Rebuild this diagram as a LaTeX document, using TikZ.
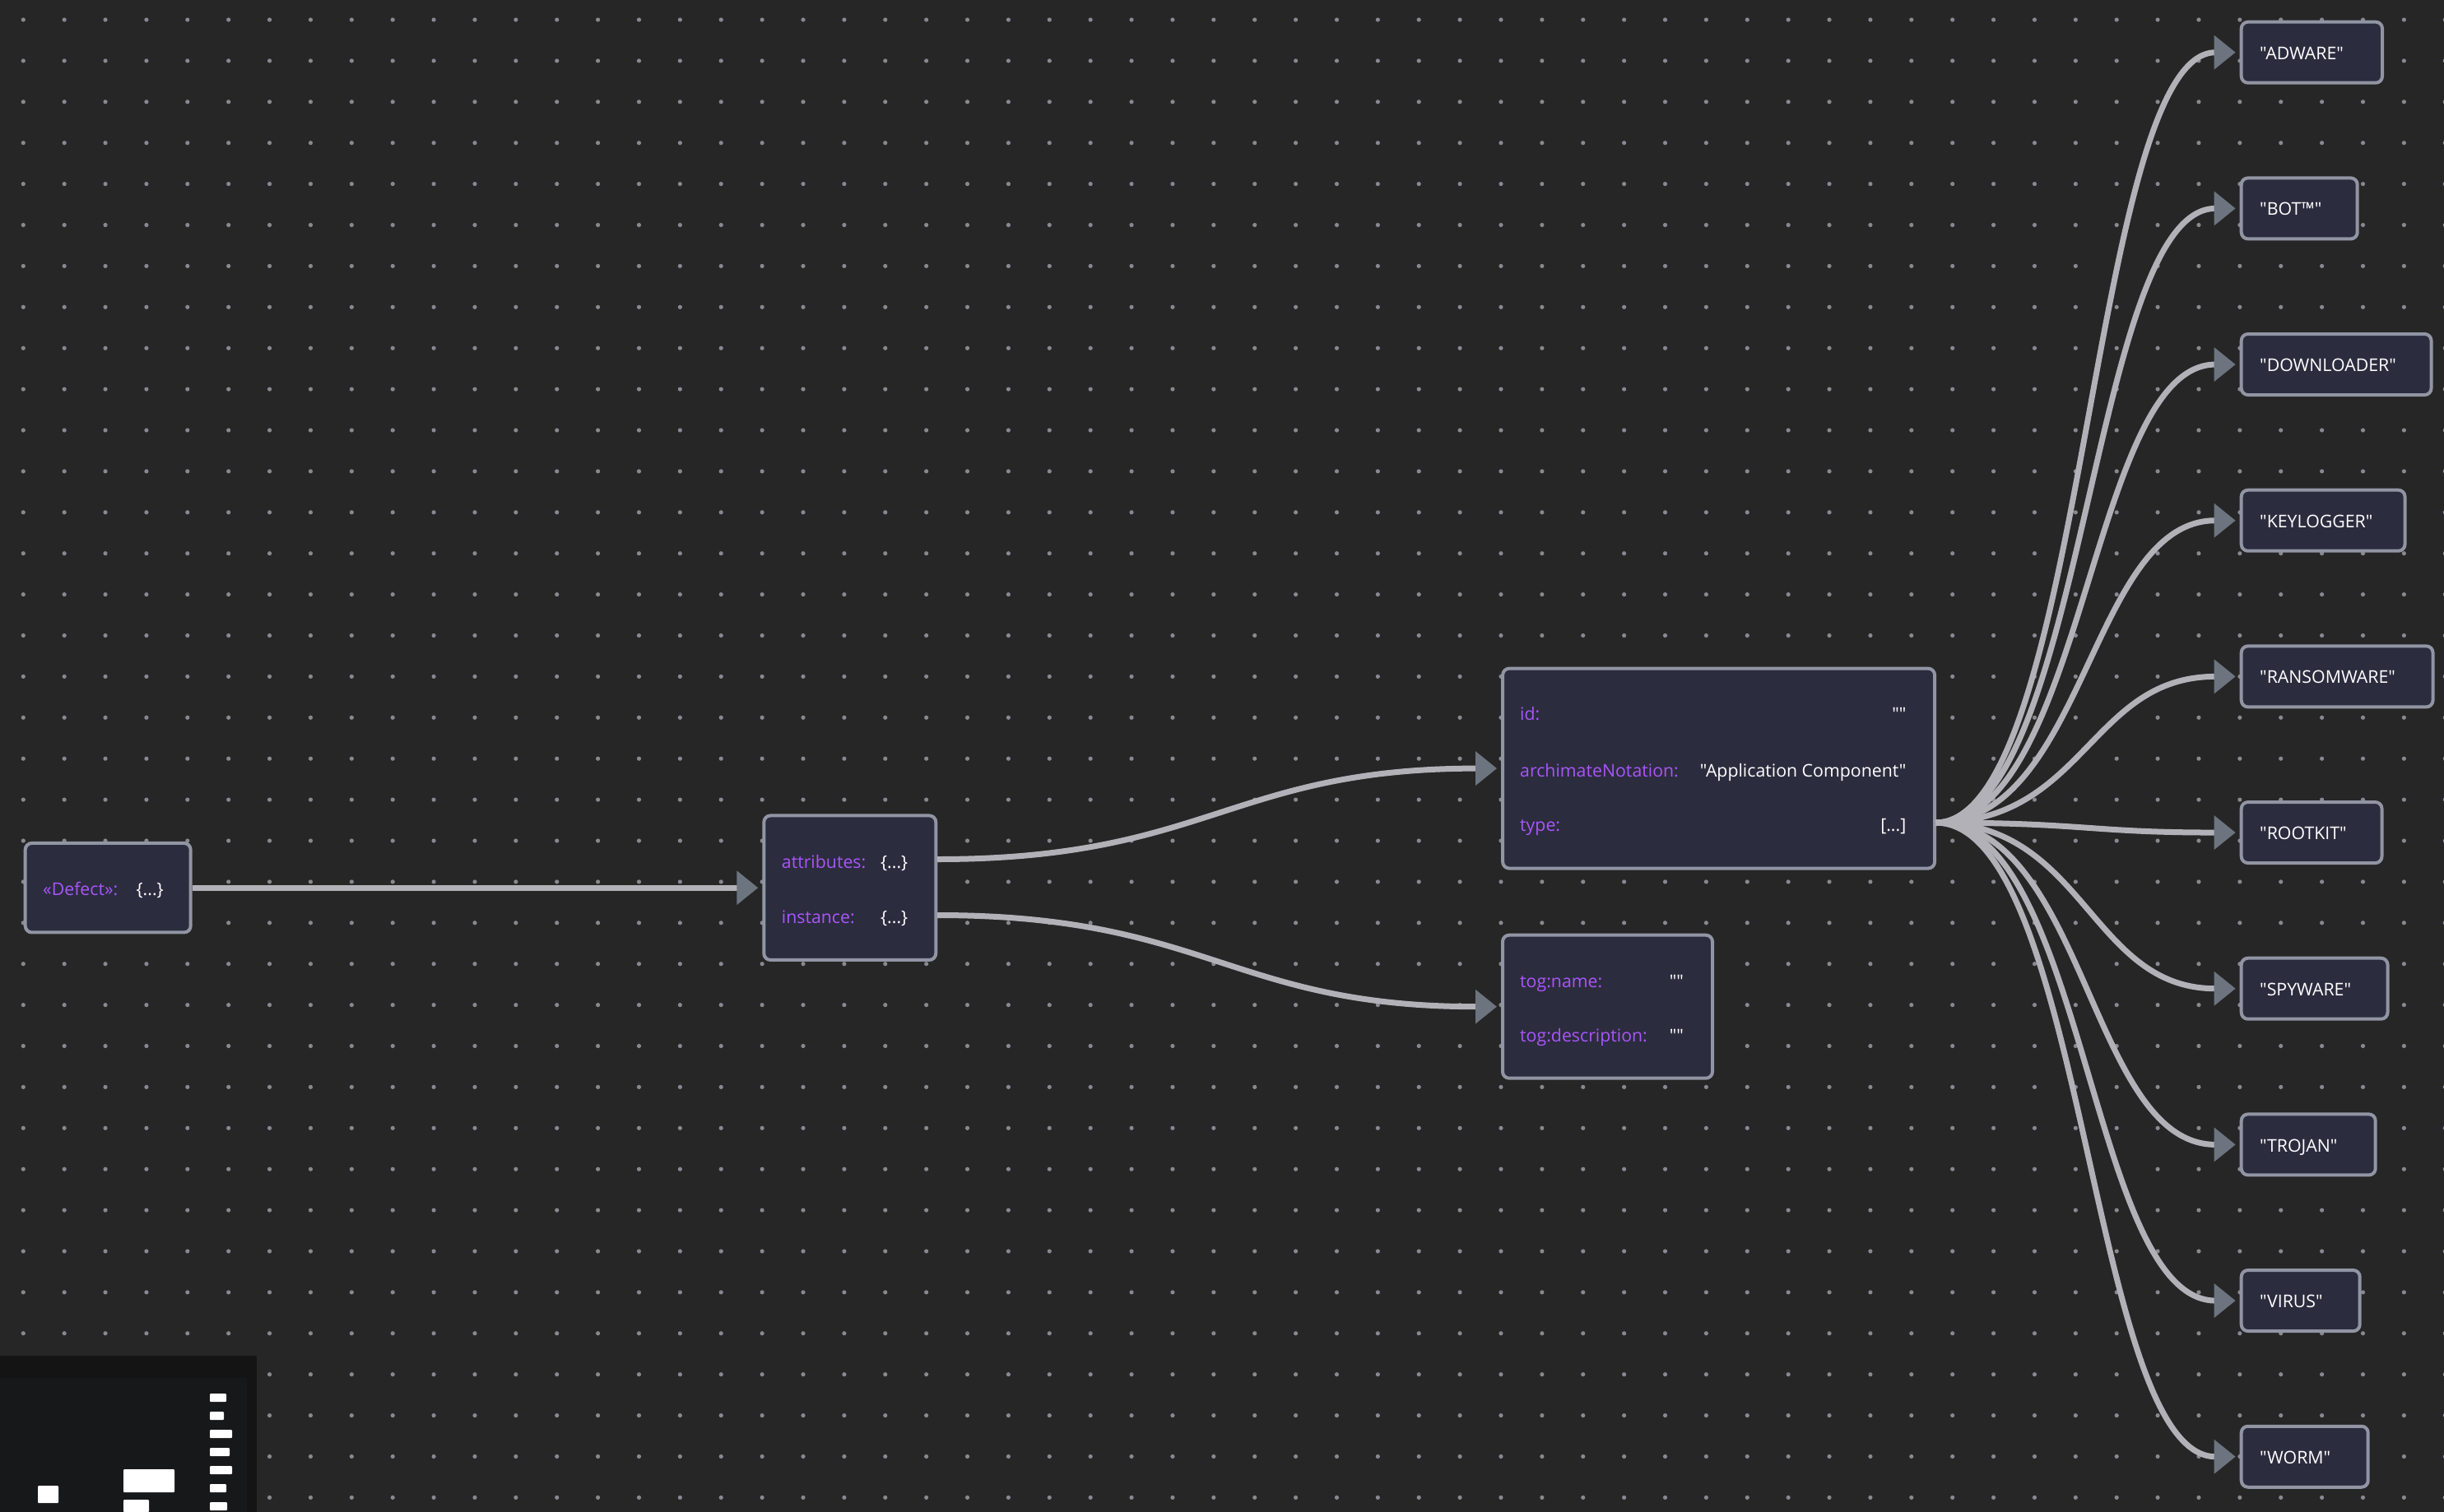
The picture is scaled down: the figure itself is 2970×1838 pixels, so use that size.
\documentclass[tikz,border=0pt]{standalone}
\usepackage{fontspec}
\newfontfamily\boxfont{Open Sans}
\usetikzlibrary{arrows.meta}
\definecolor{canvasbg}{RGB}{38,38,38}
\definecolor{griddot}{RGB}{136,136,144}
\definecolor{boxfill}{RGB}{43,44,62}
\definecolor{boxline}{RGB}{145,149,163}
\definecolor{edgeline}{RGB}{177,177,183}
\definecolor{edgetip}{RGB}{108,116,128}
\definecolor{keytext}{RGB}{170,85,250}
\definecolor{valtext}{RGB}{255,255,255}
\definecolor{mapouter}{RGB}{20,20,20}
\definecolor{mapinner}{RGB}{23,24,26}
\tikzset{
	objbox/.style={draw=boxline,fill=boxfill,line width=4pt,rounded corners=8pt},
	keylabel/.style={anchor=base west,inner sep=0pt,color=keytext,font=\boxfont\fontsize{21.3}{25}\selectfont},
	vallabel/.style={anchor=base east,inner sep=0pt,color=valtext,font=\boxfont\fontsize{21.3}{25}\selectfont},
	leaflabel/.style={anchor=base west,inner sep=0pt,color=valtext,font=\boxfont\fontsize{21.3}{25}\selectfont},
	flowedge/.style={draw=edgeline,line width=7pt,shorten >=5pt,-{Triangle[length=26pt,width=40pt,color=edgetip]}},
	mapnode/.style={fill=white,rounded corners=1pt}
}

\begin{document}
\begin{tikzpicture}[x=1pt,y=-1pt]
	\useasboundingbox (0,0) rectangle (2970,1838);
	\fill[canvasbg] (0,0) rectangle (2970,1838);
	% dotted grid
	\foreach \i in {0,...,59}
		\foreach \j in {0,...,36}
			\fill[griddot] ({28.3+49.88*\i},{24+49.9*\j}) circle (2.6);

	% minimap
	\fill[mapouter] (0,1648) rectangle (312,1838);
	\fill[mapinner] (0,1675) rectangle (299.5,1838);
	\fill[mapnode] (46,1806) rectangle (71,1827);
	\fill[mapnode] (150,1786) rectangle (212,1814);
	\fill[mapnode] (150,1823) rectangle (181,1838);
	\foreach \y/\r in {1694/275,1716/272,1738/282,1760/279,1782/282,1804/275,1826/276}
		\fill[mapnode] (255,\y) rectangle (\r,\y+10);

	% object boxes
	\node[objbox,minimum width=201,minimum height=108.5] (defectbox) at (131.2,1079.2) {};
	\node[keylabel] (defectkey) at (52,1088) {«Defect»:};
	\node[vallabel] (defectval) at (199,1088) {\{...\}};

	\node[objbox,minimum width=209,minimum height=175.5] (attrbox) at (1032.8,1079.2) {};
	\node[keylabel] (attrkey) at (949.7,1055.7) {attributes:};
	\node[vallabel] (attrval) at (1103.5,1055.7) {\{...\}};
	\node[keylabel] (instkey) at (949.7,1122.4) {instance:};
	\node[vallabel] (instval) at (1103.5,1122.4) {\{...\}};

	\node[objbox,minimum width=525,minimum height=243] (mainbox) at (2088.6,934.1) {};
	\node[keylabel] (idkey) at (1847,875.7) {id:};
	\node[vallabel] (idval) at (2316.5,875.7) {""};
	\node[keylabel] (notationkey) at (1847,944.3) {archimateNotation:};
	\node[vallabel] (notationval) at (2316.5,944.3) {"Application Component"};
	\node[keylabel] (typekey) at (1847,1010.7) {type:};
	\node[vallabel] (typeval) at (2316.5,1010.7) {[...]};

	\node[objbox,minimum width=255,minimum height=174] (togbox) at (1953.5,1223.7) {};
	\node[keylabel] (tognamekey) at (1847,1200.3) {tog:name:};
	\node[vallabel] (tognameval) at (2046,1200.3) {""};
	\node[keylabel] (togdesckey) at (1847,1266.4) {tog:description:};
	\node[vallabel] (togdescval) at (2046,1266.4) {""};

	% connectors
	\coordinate (attrout) at (1139,1044.5);
	\coordinate (instout) at (1139,1112.5);
	\coordinate (mainout) at (2352,1000);
	\draw[flowedge] (defectbox.east) -- (attrbox.west);
	\draw[flowedge] (attrout) .. controls +(328,0) and +(-328,0) .. (mainbox.west);
	\draw[flowedge] (instout) .. controls +(328,0) and +(-328,0) .. (togbox.west);

	% enum values
	\foreach \leaf/\txt/\rx [count=\k from 0] in {
		adware/"ADWARE"/2897,
		bot/"BOT™"/2866.7,
		downloader/"DOWNLOADER"/2956.5,
		keylogger/"KEYLOGGER"/2924.5,
		ransomware/"RANSOMWARE"/2958.5,
		rootkit/"ROOTKIT"/2896.5,
		spyware/"SPYWARE"/2903.5,
		trojan/"TROJAN"/2888.7,
		virus/"VIRUS"/2869.7,
		worm/"WORM"/2879.7} {
		\pgfmathsetmacro{\cy}{63.7+189.67*\k}
		\pgfmathsetmacro{\cx}{(2721.7+\rx)/2}
		\pgfmathsetmacro{\boxw}{\rx-2721.7-4}
		\node[objbox,minimum width=\boxw,minimum height=74] (\leaf) at (\cx,\cy) {};
		\node[leaflabel] (\leaf text) at (2746,\cy+8.6) {\txt};
		\draw[flowedge] (mainout) .. controls +(182,0) and +(-182,0) .. (\leaf.west);
	}
\end{tikzpicture}
\end{document}
